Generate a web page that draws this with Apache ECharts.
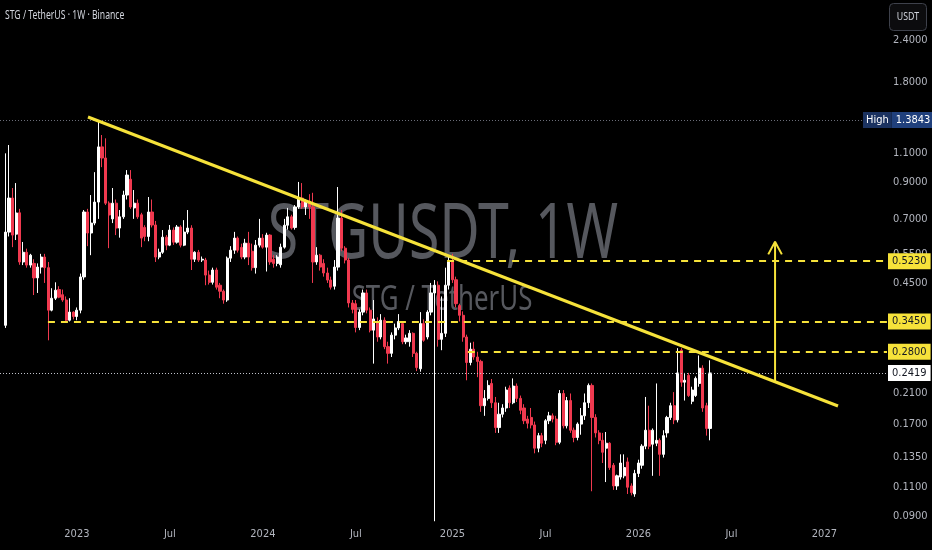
<!DOCTYPE html>
<html><head><meta charset="utf-8">
<script src="https://cdn.jsdelivr.net/npm/echarts@6/dist/echarts.min.js"></script>
<style>html,body{margin:0;padding:0;background:#000;}#c{width:932px;height:550px;}</style>
</head><body><div id="c"></div>
<script>
// ---- data (weekly STG/USDT candles) ----
const firstWeek = '2022-08-08';   // first category (Monday)
const weekCount = 248;            // categories on the time axis
const candleOffset = 1;           // first candle sits on category 1
const openP = [
 .336,.639,.808,.63,.73,.52,.556,.509,.515,.466,
 .502,.538,.50,.373,.405,.43,.415,.40,.348,.368,
 .357,.373,.469,.734,.635,.68,.786,1.15,1.065,.78,
 .70,.78,.657,.71,.825,.92,.755,.78,.72,.66,
 .62,.734,.671,.538,.556,.617,.584,.648,.596,.662,
 .584,.639,.657,.53,.556,.527,.527,.475,.452,.492,
 .443,.425,.40,.534,.564,.613,.575,.538,.592,.56,
 .50,.584,.613,.576,.626,.53,.515,.51,.576,.67,
 .71,.66,.76,.808,.76,.79,.76,.52,.545,.515,
 .482,.459,.44,.502,.704,.572,.527,.392,.39,.331,
 .368,.42,.373,.325,.345,.31,.348,.29,.277,.314,
 .33,.34,.30,.30,.318,.277,.249,.34,.31,.368,
 .42,.443,.305,.318,.443,.52,.46,.385,.36,.31,
 .26,.285,.27,.262,.193,.203,.225,.197,.166,.182,
 .19,.218,.197,.221,.203,.19,.176,.178,.169,.144,
 .157,.152,.174,.18,.176,.15,.21,.168,.20,.163,
 .155,.17,.18,.197,.222,.178,.16,.152,.144,.149,
 .128,.111,.118,.119,.131,.111,.105,.121,.128,.146,
 .163,.148,.149,.152,.138,.16,.178,.193,.175,.283,
 .227,.238,.199,.207,.225,.25,.193,.165];
const highP = [
 1.10,1.165,.866,.896,.75,.597,.57,.55,.53,.515,
 .55,.55,.52,.434,.452,.44,.43,.41,.405,.37,
 .38,.48,.744,.75,.825,.966,1.3843,1.248,1.22,.79,
 .866,.80,.744,.85,.98,.98,.854,.80,.73,.67,
 .814,.80,.69,.57,.648,.626,.671,.66,.671,.67,
 .694,.744,.67,.56,.565,.54,.535,.49,.50,.50,
 .45,.43,.54,.58,.64,.62,.59,.61,.64,.59,
 .605,.70,.63,.636,.63,.545,.545,.59,.70,.755,
 .72,.77,.903,.896,.80,.83,.838,.576,.55,.53,
 .50,.47,.527,.872,.744,.58,.535,.40,.40,.375,
 .43,.43,.38,.40,.355,.363,.355,.30,.32,.34,
 .363,.345,.315,.325,.32,.28,.368,.35,.373,.45,
 .459,.455,.41,.50,.545,.55,.47,.39,.37,.315,
 .298,.30,.28,.265,.215,.23,.232,.205,.197,.195,
 .22,.222,.233,.225,.207,.195,.18,.19,.173,.16,
 .16,.176,.185,.183,.18,.215,.215,.205,.21,.166,
 .172,.19,.21,.225,.225,.182,.163,.16,.161,.15,
 .13,.12,.138,.138,.135,.113,.124,.133,.148,.205,
 .193,.165,.225,.154,.163,.18,.197,.212,.287,.287,
 .242,.242,.22,.236,.273,.255,.197,.264];
const lowP = [
 .33,.62,.576,.605,.51,.509,.50,.50,.414,.42,
 .48,.45,.303,.37,.40,.405,.395,.345,.345,.35,
 .348,.365,.46,.58,.545,.67,.70,1.0,.77,.572,
 .68,.626,.615,.70,.80,.75,.70,.70,.576,.60,
 .60,.66,.52,.53,.55,.564,.58,.585,.59,.575,
 .58,.63,.492,.52,.52,.52,.443,.445,.445,.43,
 .405,.39,.395,.52,.55,.555,.53,.53,.509,.49,
 .48,.575,.57,.487,.51,.50,.505,.50,.57,.65,
 .65,.65,.75,.75,.719,.70,.45,.51,.49,.47,
 .45,.43,.43,.49,.56,.515,.38,.365,.32,.325,
 .36,.365,.32,.258,.30,.305,.285,.258,.27,.305,
 .325,.295,.295,.29,.27,.245,.244,.30,.305,.36,
 .087,.29,.283,.31,.43,.45,.38,.345,.30,.23,
 .255,.265,.235,.185,.18,.20,.19,.16,.16,.178,
 .185,.19,.195,.198,.182,.17,.165,.165,.139,.14,
 .145,.148,.17,.172,.147,.148,.165,.165,.16,.15,
 .152,.158,.175,.19,.107,.155,.148,.13,.114,.124,
 .108,.108,.116,.117,.105,.104,.103,.118,.125,.143,
 .143,.119,.146,.119,.135,.155,.175,.17,.172,.22,
 .20,.205,.195,.205,.22,.185,.157,.152];
const closeP = [
 .639,.808,.626,.729,.52,.556,.509,.545,.466,.502,
 .538,.50,.373,.405,.428,.408,.40,.348,.368,.357,
 .373,.469,.734,.635,.68,.786,1.15,1.065,.78,.719,
 .78,.657,.71,.825,.947,.76,.78,.71,.613,.62,
 .734,.671,.538,.556,.617,.584,.648,.596,.662,.584,
 .639,.657,.53,.556,.527,.53,.475,.452,.492,.437,
 .425,.40,.534,.564,.613,.564,.538,.592,.538,.50,
 .584,.613,.576,.626,.52,.515,.538,.576,.67,.71,
 .657,.76,.808,.76,.786,.76,.52,.545,.502,.482,
 .459,.437,.502,.704,.572,.527,.392,.375,.331,.368,
 .42,.373,.325,.351,.31,.348,.29,.277,.314,.33,
 .345,.30,.308,.318,.277,.251,.34,.303,.368,.42,
 .443,.305,.318,.443,.52,.46,.39,.36,.31,.26,
 .285,.27,.262,.193,.203,.222,.197,.166,.182,.19,
 .215,.197,.221,.203,.187,.174,.171,.169,.144,.157,
 .149,.174,.18,.176,.15,.21,.168,.20,.163,.155,
 .17,.18,.197,.222,.178,.16,.152,.14,.149,.126,
 .111,.119,.13,.126,.11,.106,.121,.13,.146,.163,
 .146,.163,.152,.138,.157,.178,.193,.175,.242,.227,
 .23,.207,.215,.233,.25,.19,.165,.2419];

const priceTicks = [2.4, 1.8, 1.1, 0.9, 0.7, 0.55, 0.45, 0.21, 0.17, 0.135, 0.11, 0.09];
const yMin = 0.08537, yMax = 3.1666;
const allTimeHigh = 1.3843;
const lastPrice = 0.2419;
const levelValues = [0.345, 0.523, 0.28];
const levelStartWeek = [12.9, 124.5, 130.3];
const trendLine = [[24.1, 1.413], [233.8, 0.1926]];
const targetArrow = [[216.2, 0.226], [216.2, 0.598]];
const arrowHead = [[214.3, 0.548], [216.2, 0.598], [218.1, 0.548]];
const highLineEndWeek = 240.5;

// ---- build ----
const cats = [];
const t0 = Date.parse(firstWeek + 'T00:00:00Z');
for (let i = 0; i < weekCount; i++) cats.push(new Date(t0 + i * 7 * 864e5).toISOString().slice(0, 10));
const candles = cats.map((c, i) => {
  const k = i - candleOffset;
  return (k >= 0 && k < openP.length) ? [openP[k], closeP[k], lowP[k], highP[k]] : '-';
});

const YEL = '#f6e23a', RED = '#f0394f';
const narrow = "'Liberation Sans Narrow','DejaVu Sans Condensed','Roboto Condensed','Noto Sans',sans-serif";
const xLast = weekCount - 0.5;

const ml = [];
priceTicks.forEach(v => ml.push({
  yAxis: v, lineStyle: {color: 'rgba(0,0,0,0)', width: 0},
  label: {show: true, position: 'end', distance: 6, formatter: v.toFixed(4), color: '#b2b5be', fontSize: 11, fontFamily: narrow}
}));
ml.push([{coord: [-0.5, allTimeHigh], lineStyle: {color: '#6a6d78', type: [1, 2], width: 1},
  label: {show: true, position: 'end', distance: 1, formatter: '{h|High}{v|' + allTimeHigh.toFixed(4) + '}',
    rich: {h: {backgroundColor: '#1b3260', color: '#fff', padding: [3, 3, 2, 3], fontSize: 11, fontFamily: narrow},
           v: {backgroundColor: '#20407c', color: '#fff', padding: [3, 4, 2, 4], fontSize: 11, fontFamily: narrow}}}},
  {coord: [highLineEndWeek, allTimeHigh]}]);
levelValues.forEach((v, i) => ml.push([{coord: [levelStartWeek[i], v], lineStyle: {color: YEL, type: [7, 6], width: 2},
  label: {show: true, position: 'end', distance: 1, formatter: v.toFixed(4), backgroundColor: YEL, color: '#131722',
    padding: [3, 4, 2, 4], fontSize: 11, fontFamily: narrow}}, {coord: [xLast, v]}]));
ml.push({yAxis: lastPrice, lineStyle: {color: '#c0c3cc', type: [1, 2], width: 1},
  label: {show: true, position: 'end', distance: 1, formatter: lastPrice.toFixed(4), backgroundColor: '#ffffff', color: '#131722',
    padding: [3, 4, 2, 4], fontSize: 11, fontFamily: narrow}});

const chart = echarts.init(document.getElementById('c'), null, {renderer: 'canvas'});
chart.setOption({
  animation: false,
  backgroundColor: '#000000',
  grid: {left: 0, right: 45, top: 0, bottom: 26, containLabel: false},
  xAxis: [{
    type: 'category', data: cats, boundaryGap: true,
    axisLine: {show: false}, axisTick: {show: false}, splitLine: {show: false},
    axisLabel: {
      color: '#b2b5be', fontSize: 11, margin: 5, fontFamily: narrow,
      interval: (i, v) => (v.slice(5, 7) === '01' || v.slice(5, 7) === '07') && +v.slice(8, 10) <= 7,
      formatter: v => v.slice(5, 7) === '01' ? v.slice(0, 4) : 'Jul'
    }
  }, {
    type: 'value', min: -0.5, max: xLast, show: false
  }],
  yAxis: {
    type: 'log', logBase: 10, min: yMin, max: yMax, position: 'right',
    axisLine: {show: false}, axisTick: {show: false}, splitLine: {show: false}, axisLabel: {show: false}
  },
  graphic: [
    {type: 'text', x: 443, y: 236, scaleX: 0.72, z: 0, silent: true,
     style: {text: 'STGUSDT, 1W', font: '77px "Noto Sans", sans-serif', fill: '#56585e', textAlign: 'center', textVerticalAlign: 'middle'}},
    {type: 'text', x: 442, y: 300, scaleX: 0.76, z: 0, silent: true,
     style: {text: 'STG / TetherUS', font: '34px "Noto Sans", sans-serif', fill: '#56585e', textAlign: 'center', textVerticalAlign: 'middle'}},
    {type: 'text', x: 5, y: 16, scaleX: 0.72, z: 10,
     style: {text: 'STG / TetherUS · 1W · Binance', font: '12px "Noto Sans", sans-serif', fill: '#d1d4dc', textAlign: 'left', textVerticalAlign: 'middle'}},
    {type: 'rect', z: 10, shape: {x: 889.5, y: 3.5, width: 37, height: 27, r: 4}, style: {fill: '#0c0c0e', stroke: '#3e414b', lineWidth: 1}},
    {type: 'text', x: 908, y: 17, scaleX: 0.8, z: 11,
     style: {text: 'USDT', font: '11px "Noto Sans", sans-serif', fill: '#d1d4dc', textAlign: 'center', textVerticalAlign: 'middle'}}
  ],
  series: [
    {
      type: 'candlestick', data: candles, barWidth: '74%', z: 3,
      itemStyle: {color: '#ffffff', color0: RED, borderColor: '#ffffff', borderColor0: RED, borderWidth: 1}
    },
    {
      type: 'line', xAxisIndex: 1, data: trendLine, showSymbol: false, symbol: 'none', z: 5,
      lineStyle: {color: YEL, width: 3},
      markLine: {silent: true, symbol: ['none', 'none'], precision: 4, data: ml, z: 4}
    },
    {type: 'line', xAxisIndex: 1, data: targetArrow, symbol: 'none', z: 5, lineStyle: {color: YEL, width: 2}},
    {type: 'line', xAxisIndex: 1, data: arrowHead, symbol: 'none', z: 5, lineStyle: {color: YEL, width: 2}}
  ]
});
</script></body></html>
